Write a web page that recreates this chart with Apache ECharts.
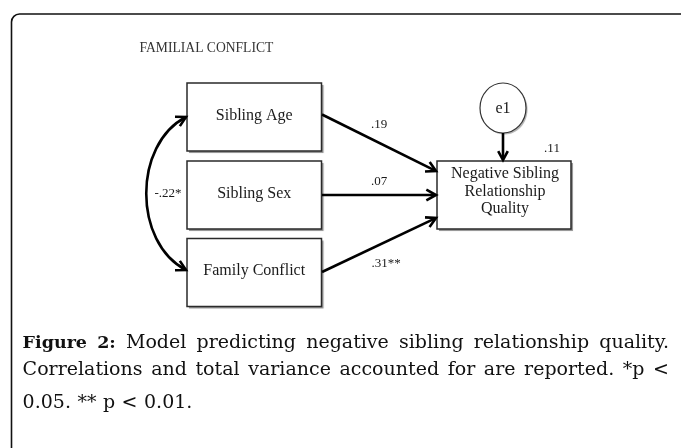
<!DOCTYPE html>
<html><head><meta charset="utf-8">
<script src="https://cdn.jsdelivr.net/npm/echarts@6/dist/echarts.min.js"></script>
<style>html,body{margin:0;padding:0;background:#fff}#chart{width:681px;height:448px}</style>
</head><body><div id="chart"></div>
<script>
// ---------------- data ----------------
const headerText = 'FAMILIAL CONFLICT';
const predictors = ['Sibling Age', 'Sibling Sex', 'Family Conflict'];
const pathCoefficients = ['.19', '.07', '.31**'];
const outcomeLines = ['Negative Sibling', 'Relationship', 'Quality'];
const errorTerm = 'e1';
const varianceExplained = '.11';
const correlationLabel = '-.22*';
const captionLine1 = [['Figure', true], ['2:', true], ['Model'], ['predicting'], ['negative'], ['sibling'], ['relationship'], ['quality.']];
const captionLine2 = ['Correlations', 'and', 'total', 'variance', 'accounted', 'for', 'are', 'reported.', '*p', '<'];
const captionLine3 = ['0.05.', '**', 'p', '<', '0.01.'];

// ---------------- layout (axis units = pixels) ----------------
const PRED_X = [187, 321.5];
const PRED_TOPS = [83, 161, 238.5];
const PRED_H = 68;
const OUT_BOX = [437, 161, 571, 229];
const PATH_START = [[322, 114.5], [322, 195], [322, 272]];
const PATH_END = [[436, 171], [436, 195], [436, 218]];
const PATH_LABEL = [[379, 125], [379, 182], [386, 263.5]];
const ERR_C = [503, 108], ERR_R = [23, 25];
const CAP_FONT = 19, CAP_BOLD_FONT = 17.5;
const TXT = '#1a1a1a';

function arrowHead(tip, ang, len, spread) {
  const a1 = ang + Math.PI - spread, a2 = ang + Math.PI + spread;
  return [[tip[0] + len * Math.cos(a1), tip[1] + len * Math.sin(a1)], tip,
          [tip[0] + len * Math.cos(a2), tip[1] + len * Math.sin(a2)]];
}
const lineStyle = {stroke: '#000', lineWidth: 2.6, fill: null, lineJoin: 'miter'};

const chart = echarts.init(document.getElementById('chart'));

// caption layout
const mctx = document.createElement('canvas').getContext('2d');
function fontOf(bold) { return bold ? 'bold ' + CAP_BOLD_FONT + 'px "DejaVu Serif"' : CAP_FONT + 'px "DejaVu Serif"'; }
function mw(t, bold) { mctx.font = fontOf(bold); return mctx.measureText(t).width; }
function wordsLine(words, left, right, y, fixedGap) {
  const ws = words.map(w => Array.isArray(w) ? w : [w]);
  const widths = ws.map(w => mw(w[0], !!w[1]));
  const total = widths.reduce((a, b) => a + b, 0);
  const gap = fixedGap != null ? fixedGap : (right - left - total) / (ws.length - 1);
  let x = left;
  return ws.map((w, i) => {
    const el = {type: 'text', x: x, y: y, style: {text: w[0], font: fontOf(!!w[1]), fill: '#111', verticalAlign: 'middle', align: 'left'}};
    x += widths[i] + gap;
    return el;
  });
}

const CAP_L = 22.6, CAP_R = 669;
const graphic = [
  {type: 'rect', shape: {x: 11.5, y: 14, width: 720, height: 480, r: 8}, style: {fill: null, stroke: '#111', lineWidth: 1.6}, z: 0},
  {type: 'text', x: 139.5, y: 48, style: {text: headerText, font: '13.6px "Liberation Serif"', fill: '#333', verticalAlign: 'middle'}}
].concat(wordsLine(captionLine1, CAP_L, CAP_R, 343.4))
 .concat(wordsLine(captionLine2, CAP_L, CAP_R, 370.5))
 .concat(wordsLine(captionLine3, CAP_L, CAP_R, 402.6, 6.5));

function shadowBox(p0, p1) {
  return [
    {type: 'rect', shape: {x: p0[0] + 2, y: p0[1] + 2, width: p1[0] - p0[0], height: p1[1] - p0[1]},
     style: {fill: 'rgba(0,0,0,0.35)', shadowBlur: 1.5, shadowColor: 'rgba(0,0,0,0.3)'}},
    {type: 'rect', shape: {x: p0[0], y: p0[1], width: p1[0] - p0[0], height: p1[1] - p0[1]},
     style: {fill: '#fff', stroke: '#2a2a2a', lineWidth: 1.5}}
  ];
}

const option = {
  animation: false,
  grid: {left: 0, right: 0, top: 0, bottom: 0},
  xAxis: {type: 'value', min: 0, max: 681, show: false},
  yAxis: {type: 'value', min: 0, max: 448, inverse: true, show: false},
  graphic: graphic,
  series: [
    { // predictor boxes
      type: 'custom', data: predictors.map((n, i) => [i, i]),
      renderItem(params, api) {
        const i = params.dataIndex;
        const p0 = api.coord([PRED_X[0], PRED_TOPS[i]]), p1 = api.coord([PRED_X[1], PRED_TOPS[i] + PRED_H]);
        return {type: 'group', children: shadowBox(p0, p1).concat([
          {type: 'text', x: (p0[0] + p1[0]) / 2, y: (p0[1] + p1[1]) / 2 - 1.5,
           style: {text: predictors[i], font: '16px "Liberation Serif"', fill: TXT, align: 'center', verticalAlign: 'middle'}}
        ])};
      }
    },
    { // outcome box
      type: 'custom', data: [[0, 0]],
      renderItem(params, api) {
        const p0 = api.coord([OUT_BOX[0], OUT_BOX[1]]), p1 = api.coord([OUT_BOX[2], OUT_BOX[3]]);
        const cx = (p0[0] + p1[0]) / 2, cy = (p0[1] + p1[1]) / 2;
        const kids = shadowBox(p0, p1);
        outcomeLines.forEach((t, k) => kids.push({type: 'text', x: cx + 1, y: cy - 21 + k * 17.5,
          style: {text: t, font: '16px "Liberation Serif"', fill: TXT, align: 'center', verticalAlign: 'middle'}}));
        kids.push({type: 'text', x: p1[0] - 19, y: p0[1] - 12,
          style: {text: varianceExplained, font: '13px "Liberation Serif"', fill: TXT, align: 'center', verticalAlign: 'middle'}});
        return {type: 'group', children: kids};
      }
    },
    { // paths with coefficients
      type: 'custom', data: pathCoefficients.map((c, i) => [i, i]),
      renderItem(params, api) {
        const i = params.dataIndex;
        const s = api.coord(PATH_START[i]), e = api.coord(PATH_END[i]), l = api.coord(PATH_LABEL[i]);
        const ang = Math.atan2(e[1] - s[1], e[0] - s[0]);
        return {type: 'group', children: [
          {type: 'line', shape: {x1: s[0], y1: s[1], x2: e[0] - 1.5 * Math.cos(ang), y2: e[1] - 1.5 * Math.sin(ang)}, style: lineStyle},
          {type: 'polyline', shape: {points: arrowHead(e, ang, 11, 0.5)}, style: lineStyle},
          {type: 'text', x: l[0], y: l[1], style: {text: pathCoefficients[i], font: '13px "Liberation Serif"', fill: TXT, align: 'center', verticalAlign: 'middle'}}
        ]};
      }
    },
    { // error term
      type: 'custom', data: [[0, 0]],
      renderItem(params, api) {
        const c = api.coord(ERR_C);
        const s = [c[0], c[1] + ERR_R[1]], e = api.coord([ERR_C[0], OUT_BOX[1] - 1]);
        return {type: 'group', children: [
          {type: 'ellipse', shape: {cx: c[0] + 1.5, cy: c[1] + 1.5, rx: ERR_R[0], ry: ERR_R[1]},
           style: {fill: 'rgba(0,0,0,0.25)', shadowBlur: 1.5, shadowColor: 'rgba(0,0,0,0.3)'}},
          {type: 'ellipse', shape: {cx: c[0], cy: c[1], rx: ERR_R[0], ry: ERR_R[1]},
           style: {fill: '#fff', stroke: '#333', lineWidth: 1.2}},
          {type: 'text', x: c[0], y: c[1] + 0.5, style: {text: errorTerm, font: '16px "Liberation Serif"', fill: TXT, align: 'center', verticalAlign: 'middle'}},
          {type: 'line', shape: {x1: s[0], y1: s[1], x2: e[0], y2: e[1] - 1.5}, style: lineStyle},
          {type: 'polyline', shape: {points: arrowHead(e, Math.PI / 2, 10, 0.5)}, style: lineStyle}
        ]};
      }
    },
    { // correlation curve
      type: 'custom', data: [[0, 0]],
      renderItem(params, api) {
        const p0 = api.coord([186, 117]), p1 = api.coord([133, 144.5]), p2 = api.coord([133, 242.5]), p3 = api.coord([186, 270]);
        const l = api.coord([168, 194]);
        const a0 = Math.atan2(p0[1] - p1[1], p0[0] - p1[0]);
        const a3 = Math.atan2(p3[1] - p2[1], p3[0] - p2[0]);
        return {type: 'group', children: [
          {type: 'bezierCurve', shape: {x1: p0[0], y1: p0[1], cpx1: p1[0], cpy1: p1[1], cpx2: p2[0], cpy2: p2[1], x2: p3[0], y2: p3[1]}, style: lineStyle},
          {type: 'polyline', shape: {points: arrowHead(p0, a0, 11, 0.5)}, style: lineStyle},
          {type: 'polyline', shape: {points: arrowHead(p3, a3, 11, 0.5)}, style: lineStyle},
          {type: 'text', x: l[0], y: l[1], style: {text: correlationLabel, font: '13px "Liberation Serif"', fill: TXT, align: 'center', verticalAlign: 'middle'}}
        ]};
      }
    }
  ]
};
chart.setOption(option);
</script></body></html>
